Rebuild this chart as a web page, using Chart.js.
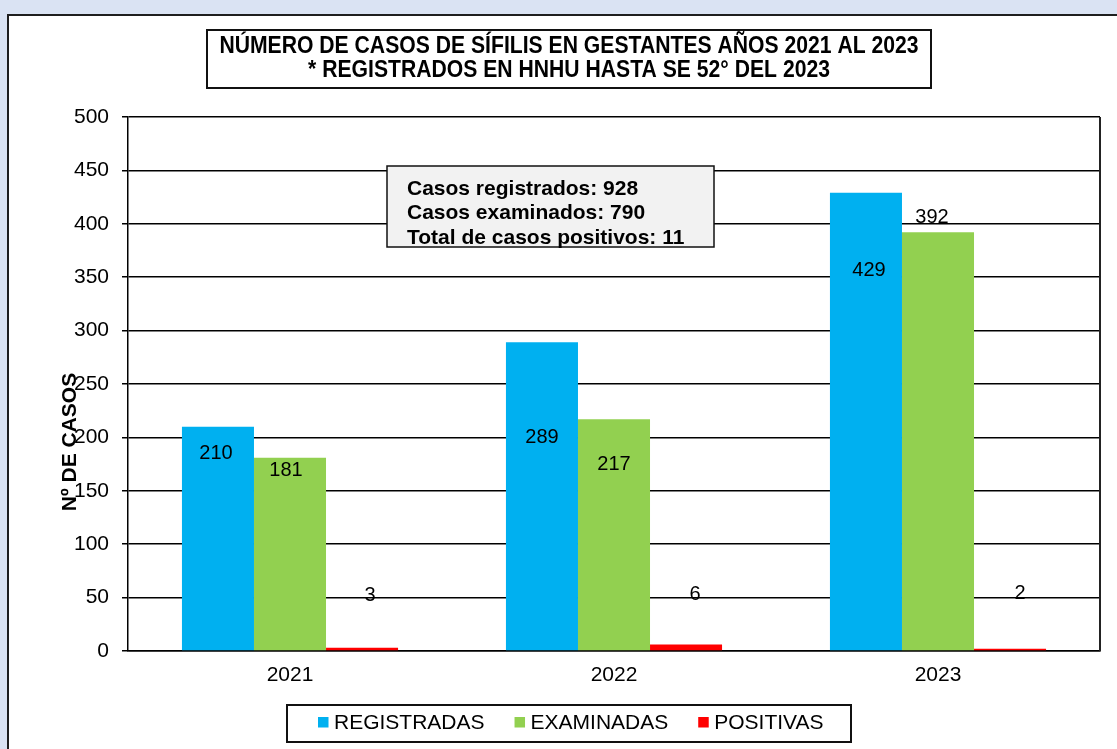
<!DOCTYPE html>
<html lang="es">
<head>
<meta charset="utf-8">
<title>Sífilis en gestantes 2021 - 2023</title>
<script src="https://cdn.jsdelivr.net/npm/chart.js@4.4.1/dist/chart.umd.min.js"></script>
<style>
  html, body { margin: 0; padding: 0; background: #dae3f3; overflow: hidden; }
  #panel { position: absolute; left: 7px; top: 14px; width: 1120px; height: 745px; background: #fff; border: 2px solid #1e1e1e; }
  #chart { position: absolute; left: 0; top: 0; }
</style>
</head>
<body>
<div id="panel"></div>
<canvas id="chart" width="1117" height="749"></canvas>
<script>
// datos del gráfico
const years = ['2021', '2022', '2023'];
const registradas = [210, 289, 429];
const examinadas = [181, 217, 392];
const positivas = [3, 6, 2];
const titleLines = ['NÚMERO DE CASOS DE SÍFILIS EN GESTANTES AÑOS 2021 AL 2023', '* REGISTRADOS EN HNHU HASTA SE 52° DEL 2023'];
const yTitle = 'Nº DE CASOS';

// dónde caen las etiquetas (valor del eje y + desplazamiento en px), como en el original
const labelAt = [[185, 200, 356], [169, 175, 406], [52, 53, 54]];
const labelDx = [[-2, 0, 3], [-4, 0, -6], [8, 9, 10]];

const FONT = "'Liberation Sans', Arial, sans-serif";
const sum = (arr) => arr.reduce((a, b) => a + b, 0);
const summaryLines = [
  'Casos registrados: ' + sum(registradas),
  'Casos examinados: ' + sum(examinadas),
  'Total de casos positivos: ' + sum(positivas)
];

const overlay = {
  id: 'overlay',
  beforeDatasetsDraw(chart) {
    const { ctx, chartArea: a } = chart;
    ctx.save();
    ctx.strokeStyle = '#222';
    ctx.lineWidth = 2;
    ctx.beginPath();
    ctx.moveTo(a.right, a.top);
    ctx.lineTo(a.right, a.bottom);
    ctx.stroke();
    ctx.restore();
  },
  afterDatasetsDraw(chart) {
    const { ctx } = chart;
    const yScale = chart.scales.y;
    ctx.save();
    ctx.font = '20px ' + FONT;
    ctx.fillStyle = '#000';
    ctx.textAlign = 'center';
    ctx.textBaseline = 'middle';
    chart.data.datasets.forEach((ds, i) => {
      chart.getDatasetMeta(i).data.forEach((bar, j) => {
        ctx.fillText(String(ds.data[j]), bar.x + labelDx[i][j], yScale.getPixelForValue(labelAt[i][j]));
      });
    });
    ctx.restore();
  },
  afterDraw(chart) {
    const { ctx } = chart;
    ctx.save();

    // cuadro del título (letra algo estrecha, como Arial Narrow)
    ctx.fillStyle = '#fff';
    ctx.fillRect(207, 30, 724, 58);
    ctx.strokeStyle = '#111';
    ctx.lineWidth = 2;
    ctx.strokeRect(207, 30, 724, 58);
    ctx.fillStyle = '#000';
    ctx.font = 'bold 23px ' + FONT;
    ctx.textAlign = 'center';
    ctx.textBaseline = 'middle';
    titleLines.forEach((t, k) => {
      ctx.save();
      ctx.translate(569, 47 + k * 24);
      ctx.scale(0.92, 1);
      ctx.fillText(t, 0, 0);
      ctx.restore();
    });

    // cuadro resumen
    ctx.font = 'bold 21px ' + FONT;
    ctx.fillStyle = '#f2f2f2';
    ctx.fillRect(387, 166, 327, 81);
    ctx.strokeStyle = '#111';
    ctx.lineWidth = 1.5;
    ctx.strokeRect(387, 166, 327, 81);
    ctx.fillStyle = '#000';
    ctx.textAlign = 'left';
    summaryLines.forEach((t, k) => ctx.fillText(t, 407, 189 + k * 24.5));

    // título del eje y, encima de las marcas como en el original
    ctx.save();
    ctx.translate(70, 442);
    ctx.rotate(-Math.PI / 2);
    ctx.textAlign = 'center';
    ctx.fillText(yTitle, 0, 0);
    ctx.restore();

    // leyenda
    ctx.strokeStyle = '#111';
    ctx.lineWidth = 2;
    ctx.strokeRect(287, 705, 564, 37);
    ctx.font = '21px ' + FONT;
    let x = 318;
    chart.data.datasets.forEach((ds) => {
      ctx.fillStyle = ds.backgroundColor;
      ctx.fillRect(x, 717, 10.5, 10.5);
      ctx.fillStyle = '#000';
      ctx.fillText(ds.label, x + 16, 723);
      x += 16 + ctx.measureText(ds.label).width + 30;
    });

    ctx.restore();
  }
};

new Chart(document.getElementById('chart'), {
  type: 'bar',
  data: {
    labels: years,
    datasets: [
      { label: 'REGISTRADAS', data: registradas, backgroundColor: '#00b0f0' },
      { label: 'EXAMINADAS', data: examinadas, backgroundColor: '#92d050' },
      { label: 'POSITIVAS', data: positivas, backgroundColor: '#ff0000' }
    ]
  },
  options: {
    responsive: false,
    devicePixelRatio: 1,
    animation: false,
    layout: { padding: { left: 0, top: 117, right: 17, bottom: 0 } },
    datasets: { bar: { categoryPercentage: 0.667, barPercentage: 1, borderWidth: 0 } },
    plugins: { legend: { display: false }, tooltip: { enabled: false } },
    scales: {
      x: {
        grid: { display: false, drawTicks: false },
        border: { color: '#000', width: 1.5 },
        ticks: { color: '#000', font: { family: FONT, size: 21 }, padding: 12 },
        afterFit: (s) => { s.height = 98; }
      },
      y: {
        min: 0,
        max: 500,
        ticks: { stepSize: 50, color: '#000', font: { family: FONT, size: 21 }, padding: 13 },
        grid: { color: '#000', lineWidth: 1.5, tickLength: 6 },
        border: { color: '#000', width: 1.5 },
        afterFit: (s) => { s.width = 128; }
      }
    }
  },
  plugins: [overlay]
});
</script>
</body>
</html>
